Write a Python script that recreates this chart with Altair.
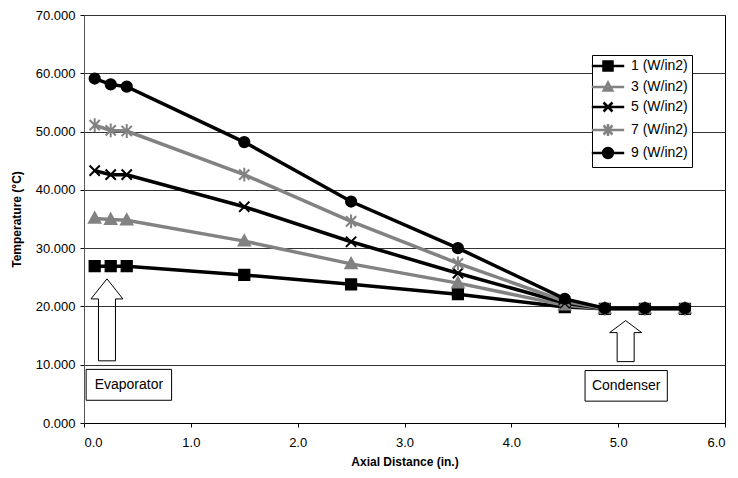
import altair as alt
import pandas as pd

# ---- data ----
x_pos = [0.1, 0.25, 0.4, 1.5, 2.5, 3.5, 4.5, 4.875, 5.25, 5.625]
series = ["1 (W/in2)", "3 (W/in2)", "5 (W/in2)", "7 (W/in2)", "9 (W/in2)"]
t1 = [26.9, 26.9, 26.9, 25.4, 23.8, 22.1, 19.9, 19.6, 19.6, 19.6]
t3 = [35.1, 34.9, 34.8, 31.2, 27.3, 24.0, 20.2, 19.6, 19.6, 19.6]
t5 = [43.3, 42.6, 42.6, 37.1, 31.1, 25.7, 20.6, 19.6, 19.6, 19.6]
t7 = [51.1, 50.2, 50.1, 42.6, 34.6, 27.4, 20.9, 19.6, 19.6, 19.6]
t9 = [59.1, 58.1, 57.7, 48.2, 38.0, 30.0, 21.3, 19.7, 19.7, 19.7]
x_ticks = [0, 1, 2, 3, 4, 5, 6]
y_ticks = [0, 10, 20, 30, 40, 50, 60, 70]

# annotation positions (data units)
evap_arrow = {"x": 0.215, "y": 17.7}
cond_arrow = {"x": 5.07, "y": 14.05}
evap_box = {"x": 0.02, "x2": 0.82, "y": 3.9, "y2": 9.2, "label": "Evaporator"}
cond_box = {"x": 4.69, "x2": 5.46, "y": 3.75, "y2": 9.0, "label": "Condenser"}

# ---- styles ----
BLACK = "#000000"
GRAY = "#828282"
colors = [BLACK, GRAY, BLACK, GRAY, BLACK]
marker_paths = [
    "M-1,-1L1,-1L1,1L-1,1Z",
    "M0,-1.15L1.1,0.85L-1.1,0.85Z",
    "M-1,-1L1,1M1,-1L-1,1",
    "M-1,-1L1,1M1,-1L-1,1M0,-1.35L0,1.35",
    "circle",
]
BAR = "M-3.6,0L3.6,0"
legend_paths = [
    BAR + "M-1,-1L1,-1L1,1L-1,1Z",
    BAR + "M0,-1.0L0.95,0.75L-0.95,0.75Z",
    BAR + "M-1,-1L1,1M1,-1L-1,1",
    BAR + "M-1,-1L1,1M1,-1L-1,1M0,-1.35L0,1.35",
    BAR + "M1.1,0A1.1,1.1,0,1,1,-1.1,0A1.1,1.1,0,1,1,1.1,0Z",
]

rows = []
for name, vals in zip(series, [t1, t3, t5, t7, t9]):
    for xv, tv in zip(x_pos, vals):
        rows.append({"series": name, "x": xv, "t": tv})
df = pd.DataFrame(rows)

xs = alt.Scale(domain=[0, 6], nice=False, zero=False)
ys = alt.Scale(domain=[0, 70], nice=False)
col_scale = alt.Scale(domain=series, range=colors)

X = alt.X("x:Q", scale=xs, axis=alt.Axis(
    values=x_ticks, format=".1f", title="Axial Distance (in.)", grid=False,
    tickSize=4, labelPadding=9, titlePadding=7, domainColor=BLACK, tickColor=BLACK))
Y = alt.Y("t:Q", scale=ys, axis=alt.Axis(
    values=y_ticks, format=".3f", title="Temperature (°C)", grid=True,
    gridColor="#333333", gridWidth=1, tickSize=4, labelPadding=5, titlePadding=12,
    domainColor="#555555", tickColor=BLACK))

base = alt.Chart(df)

lines = base.mark_line(strokeWidth=3.5).encode(
    x=X, y=Y,
    stroke=alt.Stroke("series:N", scale=col_scale, legend=None),
    detail="series:N",
    order="x:Q",
)

points = base.mark_point(filled=True, strokeWidth=2, size=105, opacity=1).encode(
    x=X, y=Y,
    fill=alt.Fill("series:N", scale=col_scale, legend=None),
    stroke=alt.Stroke("series:N", scale=col_scale, legend=None),
    shape=alt.Shape("series:N", scale=alt.Scale(domain=series, range=marker_paths), legend=None),
)

legend_layer = base.transform_filter("false").mark_point(filled=True, strokeWidth=2.5).encode(
    x=X, y=Y,
    fill=alt.Fill("series:N", scale=alt.Scale(domain=series, range=colors), legend=alt.Legend(title=None)),
    stroke=alt.Stroke("series:N", scale=alt.Scale(domain=series, range=colors), legend=alt.Legend(title=None)),
    shape=alt.Shape("series:N", scale=alt.Scale(domain=series, range=legend_paths), legend=alt.Legend(title=None)),
)

ann_arrow_df = pd.DataFrame([evap_arrow])
cond_arrow_df = pd.DataFrame([cond_arrow])
evap_arrow_path = "M0,-1L0.39,-0.51L0.207,-0.51L0.207,1L-0.207,1L-0.207,-0.51L-0.39,-0.51Z"
cond_arrow_path = "M0,-1L0.78,-0.415L0.415,-0.415L0.415,1L-0.415,1L-0.415,-0.415L-0.78,-0.415Z"

evap_arrow_mark = alt.Chart(ann_arrow_df).mark_point(
    shape=evap_arrow_path, size=6724, filled=False, stroke=BLACK, strokeWidth=1, opacity=1
).encode(x=alt.X("x:Q", scale=xs), y=alt.Y("y:Q", scale=ys))
cond_arrow_mark = alt.Chart(cond_arrow_df).mark_point(
    shape=cond_arrow_path, size=1681, filled=False, stroke=BLACK, strokeWidth=1, opacity=1
).encode(x=alt.X("x:Q", scale=xs), y=alt.Y("y:Q", scale=ys))

box_df = pd.DataFrame([evap_box, cond_box])
boxes = alt.Chart(box_df).mark_rect(fill="white", stroke=BLACK, strokeWidth=1).encode(
    x=alt.X("x:Q", scale=xs), x2="x2:Q", y=alt.Y("y:Q", scale=ys), y2="y2:Q")
box_df["cx"] = (box_df["x"] + box_df["x2"]) / 2
box_df["cy"] = (box_df["y"] + box_df["y2"]) / 2
box_text = alt.Chart(box_df).mark_text(fontSize=14, font="Liberation Sans", color=BLACK).encode(
    x=alt.X("cx:Q", scale=xs), y=alt.Y("cy:Q", scale=ys), text="label:N")

chart = alt.layer(
    lines, points, evap_arrow_mark, cond_arrow_mark, boxes, box_text, legend_layer
).resolve_scale(
    fill="independent", stroke="independent", shape="independent"
).properties(
    width=641, height=408,
    autosize=alt.AutoSizeParams(type="none"),
    padding={"left": 76, "top": 7, "right": 5, "bottom": 47},
).configure(
    font="Liberation Sans",
).configure_view(
    stroke=BLACK, strokeWidth=1,
).configure_axis(
    labelFontSize=13, labelColor=BLACK, titleFontSize=12, titleFontWeight="bold",
    titleColor=BLACK, labelFont="Liberation Sans", titleFont="Liberation Sans",
).configure_legend(
    orient="none", legendX=508, legendY=40, direction="vertical",
    labelFontSize=14, labelColor=BLACK, labelFont="Liberation Sans",
    symbolSize=81, symbolStrokeWidth=2.5, symbolOpacity=1,
    strokeColor=BLACK, fillColor="white", padding=4, rowPadding=1,
    symbolOffset=5, labelOffset=16, labelLimit=200,
)

chart.save("out.html", embed_options={"renderer": "svg", "actions": False})
